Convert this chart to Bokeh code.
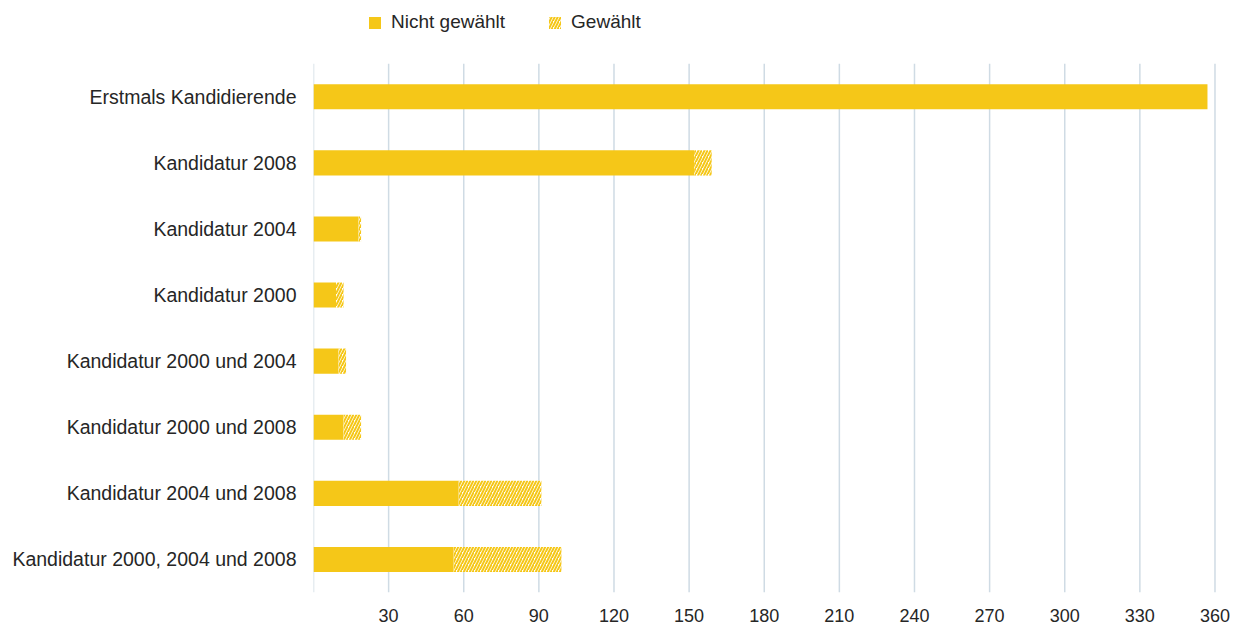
from bokeh.plotting import figure
from bokeh.models import Range1d, FixedTicker, Legend, LegendItem, ColumnDataSource
from bokeh.embed import file_html
from bokeh.resources import INLINE

categories = [
    "Erstmals Kandidierende",
    "Kandidatur 2008",
    "Kandidatur 2004",
    "Kandidatur 2000",
    "Kandidatur 2000 und 2004",
    "Kandidatur 2000 und 2008",
    "Kandidatur 2004 und 2008",
    "Kandidatur 2000, 2004 und 2008",
]
nicht_gewaehlt = [357, 152, 18, 9, 10, 12, 58, 56]
gewaehlt = [0, 7, 1, 3, 3, 7, 33, 43]
x_ticks = [0, 30, 60, 90, 120, 150, 180, 210, 240, 270, 300, 330, 360]

YELLOW = "#F5C718"
FONT = "Liberation Sans"
TXT = "#262626"

n = len(categories)
ypos = [n - 1 - i for i in range(n)]
totals = [a + b for a, b in zip(nicht_gewaehlt, gewaehlt)]
src = ColumnDataSource(dict(y=ypos, cat=categories, ng=nicht_gewaehlt, g=gewaehlt,
                            tot=totals, zero=[0] * n))

p = figure(width=1233, height=628, output_backend="svg", toolbar_location=None,
           y_range=Range1d(-0.5, 8.456), x_range=Range1d(0, 363.4),
           min_border_left=313, min_border_right=10, min_border_top=0, min_border_bottom=36)
p.outline_line_color = None
p.background_fill_color = "white"
p.border_fill_color = "white"

# vertical grid lines (limited to the bar area)
p.segment(x0=x_ticks, x1=x_ticks, y0=[-0.5] * len(x_ticks), y1=[n - 0.5] * len(x_ticks),
          line_color="#cfdbe4", line_width=1.5, level="underlay")

r1 = p.hbar(y="y", left="zero", right="ng", height=0.38, source=src,
            fill_color=YELLOW, line_color=None)
r2 = p.hbar(y="y", left="ng", right="tot", height=0.38, source=src,
            fill_color="white", line_color=None, hatch_pattern="/",
            hatch_color=YELLOW, hatch_scale=6, hatch_weight=2)

p.xaxis.ticker = FixedTicker(ticks=x_ticks)
p.xaxis.major_label_overrides = {0: ""}
p.xaxis.axis_line_color = None
p.xaxis.major_tick_line_color = None
p.xaxis.minor_tick_line_color = None
p.xaxis.major_label_text_font = FONT
p.xaxis.major_label_text_font_size = "18px"
p.xaxis.major_label_text_color = TXT
p.xaxis.major_label_standoff = 10

p.yaxis.ticker = FixedTicker(ticks=ypos)
p.yaxis.major_label_overrides = {y: c for y, c in zip(ypos, categories)}
p.yaxis.axis_line_color = None
p.yaxis.major_tick_line_color = None
p.yaxis.minor_tick_line_color = None
p.yaxis.major_label_text_font = FONT
p.yaxis.major_label_text_font_size = "19.5px"
p.yaxis.major_label_text_color = TXT
p.yaxis.major_label_standoff = 11

p.xgrid.grid_line_color = None
p.ygrid.grid_line_color = None

legend = Legend(items=[LegendItem(label="Nicht gewählt", renderers=[r1]),
                       LegendItem(label="Gewählt", renderers=[r2])],
                orientation="horizontal", location=(54, 559),
                glyph_width=15, glyph_height=15, label_standoff=9, spacing=42,
                label_text_font=FONT, label_text_font_size="19px", label_text_color=TXT,
                border_line_color=None, background_fill_alpha=0, padding=4,
                margin=0)
p.add_layout(legend, "center")

open("out.html", "w").write(file_html(p, INLINE))
